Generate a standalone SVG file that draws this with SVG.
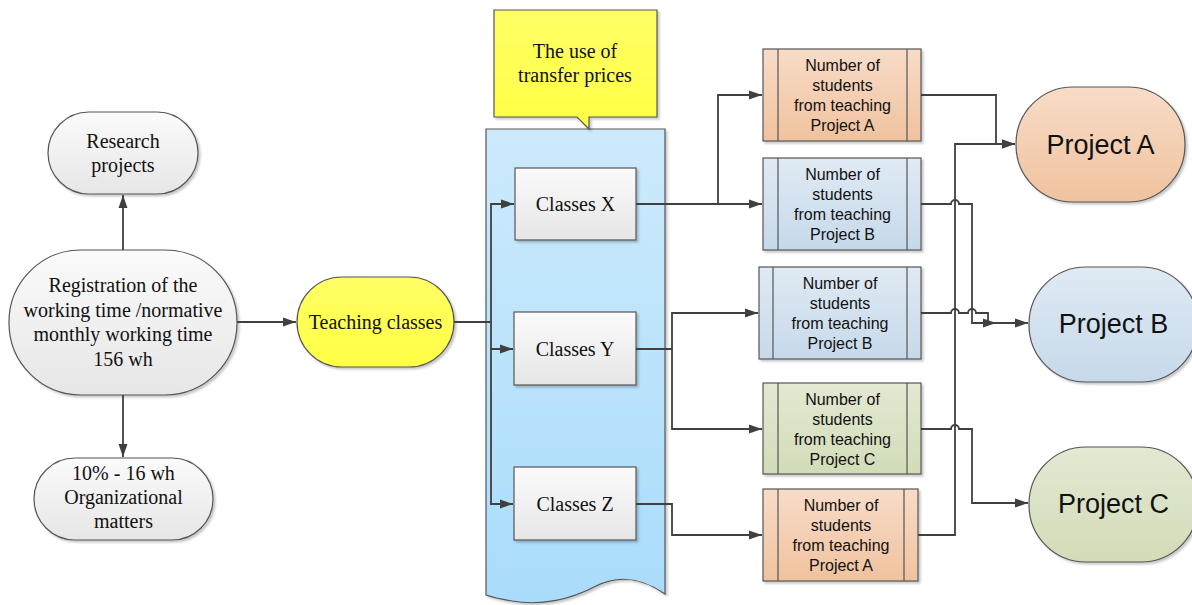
<svg xmlns="http://www.w3.org/2000/svg" width="1192" height="605" viewBox="0 0 1192 605">
<defs>
<linearGradient id="gGray" x1="0" y1="0" x2="0" y2="1"><stop offset="0" stop-color="#fbfbfb"/><stop offset="1" stop-color="#e6e6e6"/></linearGradient>
<linearGradient id="gYellow" x1="0" y1="0" x2="0" y2="1"><stop offset="0" stop-color="#ffff66"/><stop offset="1" stop-color="#ffff44"/></linearGradient>
<linearGradient id="gDoc" x1="0" y1="0" x2="0" y2="1"><stop offset="0" stop-color="#cdeafc"/><stop offset="1" stop-color="#a9dcfb"/></linearGradient>
<linearGradient id="gOrange" x1="0" y1="0" x2="0" y2="1"><stop offset="0" stop-color="#f8dcc8"/><stop offset="1" stop-color="#f0c29e"/></linearGradient>
<linearGradient id="gBlue" x1="0" y1="0" x2="0" y2="1"><stop offset="0" stop-color="#e0eaf4"/><stop offset="1" stop-color="#c6d9ea"/></linearGradient>
<linearGradient id="gGreen" x1="0" y1="0" x2="0" y2="1"><stop offset="0" stop-color="#e3e9d2"/><stop offset="1" stop-color="#d2dcb8"/></linearGradient>
<filter id="sh" x="-10%" y="-10%" width="125%" height="125%"><feDropShadow dx="2" dy="2" stdDeviation="1.2" flood-color="#000" flood-opacity="0.22"/></filter>
<marker id="arr" markerUnits="userSpaceOnUse" markerWidth="14" markerHeight="10" viewBox="0 0 14 10" refX="13" refY="5" orient="auto"><path d="M0,0.5 L13,5 L0,9.5 Z" fill="#404040"/></marker>
<style>
.sh{stroke:#555;stroke-width:1.2;filter:url(#sh)}
.t{font-family:"Liberation Serif","Times New Roman",serif;font-size:20px;fill:#111;text-anchor:middle}
.s{font-family:"Liberation Sans",Arial,sans-serif;font-size:16px;fill:#111;text-anchor:middle}
.p{font-family:"Liberation Sans",Arial,sans-serif;font-size:27px;fill:#111;text-anchor:middle}
.c{fill:none;stroke:#404040;stroke-width:1.8}
.a{marker-end:url(#arr)}
.ln{stroke:#555;stroke-width:1.2}
</style>
</defs>

<g id="research">
<rect class="sh" x="48" y="112" width="150" height="82" rx="41" fill="url(#gGray)"/>
<text class="t" x="123" y="148">Research</text>
<text class="t" x="123" y="172">projects</text>
</g>
<g id="registration">
<rect class="sh" x="9" y="250" width="228" height="145" rx="72" fill="url(#gGray)"/>
<text class="t" x="123" y="292">Registration of the</text>
<text class="t" x="123" y="316.5">working time /normative</text>
<text class="t" x="123" y="341">monthly working time</text>
<text class="t" x="123" y="365.5">156 wh</text>
</g>
<g id="organizational">
<rect class="sh" x="34" y="458" width="179" height="82" rx="41" fill="url(#gGray)"/>
<text class="t" x="123.5" y="480">10% - 16 wh</text>
<text class="t" x="123.5" y="504">Organizational</text>
<text class="t" x="123.5" y="528">matters</text>
</g>
<g id="teaching">
<rect class="sh" x="297" y="277" width="157" height="90" rx="45" fill="url(#gYellow)"/>
<text class="t" x="375.5" y="329">Teaching classes</text>
</g>

<g id="document">
<path class="sh" d="M486,129 H665 V594 C642,578 620,574 596,586 C570,600 540,606 512,601 C500,599 492,597 486,595 Z" fill="url(#gDoc)"/>
</g>
<g id="callout">
<path class="sh" d="M494,10 H657 V117 H589 V129 L577,117 H494 Z" fill="url(#gYellow)"/>
<text class="t" x="575" y="58">The use of</text>
<text class="t" x="575" y="82">transfer prices</text>
</g>

<g id="classesX">
<rect class="sh" x="515" y="168" width="121" height="72" fill="url(#gGray)"/>
<text class="t" x="575.5" y="211">Classes X</text>
</g>
<g id="classesY">
<rect class="sh" x="514" y="312" width="122" height="73" fill="url(#gGray)"/>
<text class="t" x="575" y="356">Classes Y</text>
</g>
<g id="classesZ">
<rect class="sh" x="514" y="467" width="122" height="73" fill="url(#gGray)"/>
<text class="t" x="575" y="511">Classes Z</text>
</g>

<g id="numA1">
<rect class="sh" x="763" y="49" width="158" height="92" fill="url(#gOrange)"/>
<line class="ln" x1="778" y1="49" x2="778" y2="141"/><line class="ln" x1="907" y1="49" x2="907" y2="141"/>
<text class="s" x="842.5" y="71">Number of</text><text class="s" x="842.5" y="91">students</text><text class="s" x="842.5" y="111">from teaching</text><text class="s" x="842.5" y="131">Project A</text>
</g>
<g id="numB1">
<rect class="sh" x="763" y="158" width="158" height="92" fill="url(#gBlue)"/>
<line class="ln" x1="778" y1="158" x2="778" y2="250"/><line class="ln" x1="907" y1="158" x2="907" y2="250"/>
<text class="s" x="842.5" y="180">Number of</text><text class="s" x="842.5" y="200">students</text><text class="s" x="842.5" y="220">from teaching</text><text class="s" x="842.5" y="240">Project B</text>
</g>
<g id="numB2">
<rect class="sh" x="759" y="267" width="162" height="92" fill="url(#gBlue)"/>
<line class="ln" x1="773" y1="267" x2="773" y2="359"/><line class="ln" x1="907" y1="267" x2="907" y2="359"/>
<text class="s" x="840" y="289">Number of</text><text class="s" x="840" y="309">students</text><text class="s" x="840" y="329">from teaching</text><text class="s" x="840" y="349">Project B</text>
</g>
<g id="numC1">
<rect class="sh" x="763" y="383" width="158" height="91" fill="url(#gGreen)"/>
<line class="ln" x1="778" y1="383" x2="778" y2="474"/><line class="ln" x1="907" y1="383" x2="907" y2="474"/>
<text class="s" x="842.5" y="405">Number of</text><text class="s" x="842.5" y="425">students</text><text class="s" x="842.5" y="445">from teaching</text><text class="s" x="842.5" y="465">Project C</text>
</g>
<g id="numA2">
<rect class="sh" x="763" y="489" width="155" height="92" fill="url(#gOrange)"/>
<line class="ln" x1="778" y1="489" x2="778" y2="581"/><line class="ln" x1="904" y1="489" x2="904" y2="581"/>
<text class="s" x="841" y="511">Number of</text><text class="s" x="841" y="531">students</text><text class="s" x="841" y="551">from teaching</text><text class="s" x="841" y="571">Project A</text>
</g>

<g id="projectA">
<rect class="sh" x="1016" y="87" width="169" height="115" rx="57" fill="url(#gOrange)"/>
<text class="p" x="1100.5" y="154">Project A</text>
</g>
<g id="projectB">
<rect class="sh" x="1029" y="267" width="169" height="115" rx="57" fill="url(#gBlue)"/>
<text class="p" x="1113.5" y="333">Project B</text>
</g>
<g id="projectC">
<rect class="sh" x="1029" y="447" width="169" height="115" rx="57" fill="url(#gGreen)"/>
<text class="p" x="1113.5" y="513">Project C</text>
</g>

<g id="connectors">
<path class="c a" d="M123,250 V195"/>
<path class="c a" d="M123,395 V457"/>
<path class="c a" d="M237,322 H296"/>
<path class="c a" d="M454,322 H491 V204 H514"/>
<path class="c a" d="M491,322 V349 H513"/>
<path class="c a" d="M491,349 V504 H513"/>
<path class="c a" d="M636,204 H718 V95 H762"/>
<path class="c a" d="M636,204 H762"/>
<path class="c a" d="M636,349 H672 V313 H758"/>
<path class="c a" d="M672,349 V429 H762"/>
<path class="c a" d="M636,504 H672 V535 H762"/>
<path class="c a" d="M921,95 H996 V144 H1015"/>
<path class="c a" d="M918,535 H955 V144 H1015"/>
<path class="c a" d="M921,204 H951 a4,4 0 0 1 8,0 H972 V323 H1028"/>
<path class="c a" d="M921,313 H951 a4,4 0 0 1 8,0 H968 a4,4 0 0 1 8,0 H988 V323 H996"/>
<path class="c a" d="M921,429 H951 a4,4 0 0 1 8,0 H972 V503 H1028"/>
</g>
</svg>
